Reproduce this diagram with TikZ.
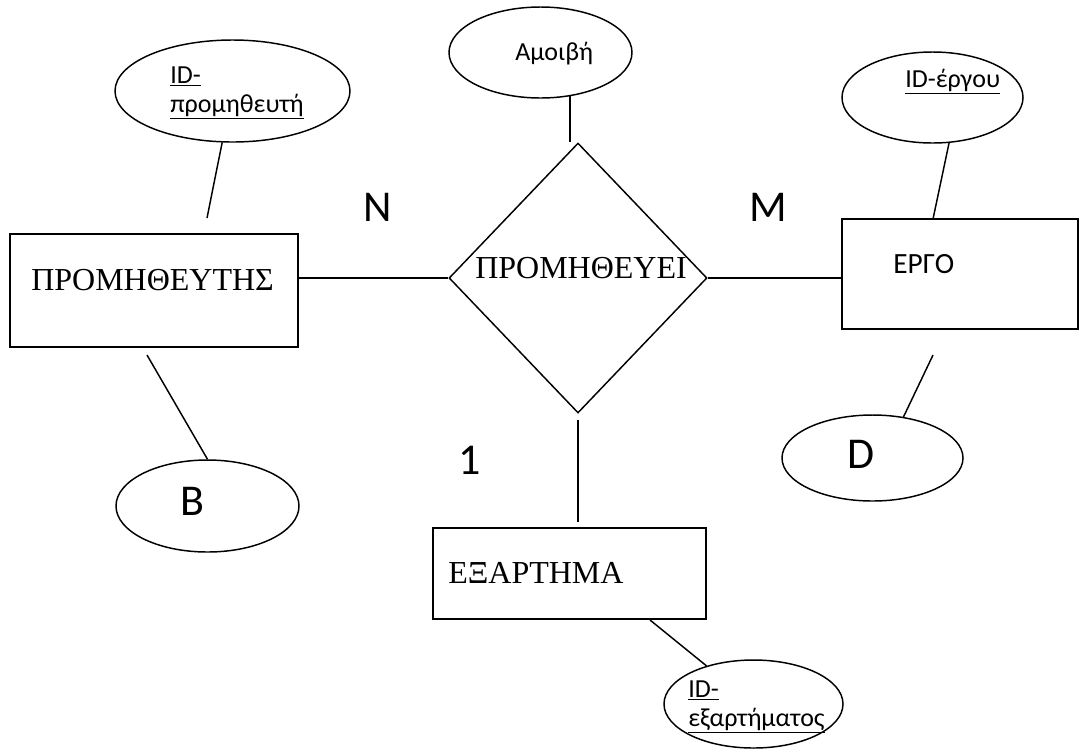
\documentclass[tikz,border=0pt]{standalone}
\usepackage{fontspec}
\setmainfont{Liberation Serif}
\newfontfamily\carlito{Carlito}
\usetikzlibrary{shapes.geometric}
\begin{document}
\begin{tikzpicture}[x=0.75pt,y=-0.75pt,
  ent/.style={draw,rectangle,line width=1.4pt,inner sep=0pt},
  attr/.style={draw,ellipse,line width=1.1pt,inner sep=0pt},
  relship/.style={draw,diamond,line width=1.1pt,inner sep=0pt},
  conn/.style={line width=1.1pt},
  serif/.style={font=\fontsize{24}{28}\selectfont,anchor=base west,inner sep=0pt},
  attrtxt/.style={font=\carlito\fontsize{19.5}{23}\selectfont,anchor=base west,inner sep=0pt},
  enttxt/.style={font=\carlito\fontsize{22}{26}\selectfont,anchor=base west,inner sep=0pt},
  card/.style={font=\carlito\fontsize{33}{38}\selectfont,anchor=base west,inner sep=0pt}]
\useasboundingbox (0,0) rectangle (1080,751);

% entities
\node[ent,minimum width=216pt,minimum height=84.75pt] (prom) at (154,290.5) {};
\node[ent,minimum width=177pt,minimum height=82.5pt] (ergo) at (960,274) {};
\node[ent,minimum width=204.75pt,minimum height=68.25pt] (exart) at (569.5,573.5) {};
% relationship
\node[relship,minimum width=193.5pt,minimum height=202.5pt] (rel) at (578,278) {};
% attributes
\node[attr,minimum width=176.25pt,minimum height=76.5pt] (idprom) at (232.5,91) {};
\node[attr,minimum width=137.25pt,minimum height=68.25pt] (amoivi) at (540.5,52.5) {};
\node[attr,minimum width=135.75pt,minimum height=68.25pt] (iderg) at (932.5,97.5) {};
\node[attr,minimum width=135.75pt,minimum height=64.5pt] (dattr) at (872.5,458) {};
\node[attr,minimum width=137.25pt,minimum height=69pt] (battr) at (207.5,506) {};
\node[attr,minimum width=134.25pt,minimum height=66pt] (idex) at (753.5,704) {};

% texts
\node[serif] (tprom) at (31,290) {ΠΡΟΜΗΘΕΥΤΗΣ};
\node[serif] (trel) at (475,278) {ΠΡΟΜΗΘΕΥΕΙ};
\node[serif] (texart) at (448,583) {ΕΞΑΡΤΗΜΑ};
\node[enttxt] (tergo) at (893,273) {ΕΡΓΟ};
\node[attrtxt] (tidp1) at (170,83) {\underline{ID-}};
\node[attrtxt] (tidp2) at (170,112) {\underline{προμηθευτή}};
\node[attrtxt] (tamoivi) at (515,60) {Αμοιβή};
\node[attrtxt] (tiderg) at (905,87) {\underline{ID-έργου}};
\node[attrtxt] (tidex1) at (688,697) {\underline{ID-}};
\node[attrtxt] (tidex2) at (688,726) {\underline{εξαρτήματος}};
\node[card] (tb) at (180,515) {B};
\node[card] (td) at (847,468) {D};
\node[card] (tn) at (363,221) {N};
\node[card] (tm) at (749,221) {M};
\node[card] (tone) at (458,474) {1};

% free ends
\coordinate (c1) at (207,218);
\coordinate (c2) at (933,219);
\coordinate (c3) at (933,355);
\coordinate (c4) at (147,355);
\coordinate (c5) at (650,620);

% connectors
\draw[conn] (rel.west -| prom.east) -- (rel.west);
\draw[conn] (rel.east) -- (rel.east -| ergo.west);
\draw[conn,shorten <=4.5pt,shorten >=3.75pt] (rel.south) -- (rel.south |- exart.north);
\draw[conn] (amoivi.-56) -- (amoivi.-56 |- rel.north);
\draw[conn] (idprom) -- (c1);
\draw[conn] (iderg.-70) -- (c2);
\draw[conn] (c3) -- (dattr.53);
\draw[conn] (c4) -- (battr.north);
\draw[conn] (c5) -- (idex);
\end{tikzpicture}
\end{document}
